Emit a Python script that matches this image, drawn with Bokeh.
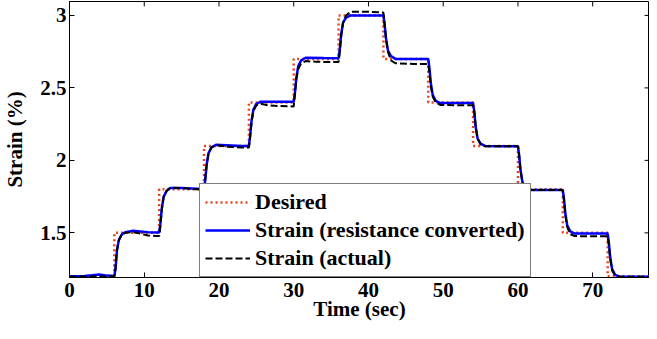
from bokeh.plotting import figure
from bokeh.models import Range1d, FixedTicker, Legend, LegendItem
from bokeh.embed import file_html
from bokeh.resources import INLINE

# ---------------- data ----------------
step_times = [0, 6, 12, 18, 24, 30, 36, 42, 48, 54, 60, 66, 72, 78]
desired = [1.2, 1.5, 1.8, 2.1, 2.4, 2.7, 3.0, 2.7, 2.4, 2.1, 1.8, 1.5, 1.2, 1.2]

t_conv = [0, 2, 3, 4, 5, 6.0, 6.15, 6.35, 6.6, 7.0, 7.5, 8.5, 9.5, 10.5, 12.0,
          12.15, 12.35, 12.6, 13.0, 13.5, 15, 17, 18.0,
          18.15, 18.35, 18.6, 19.0, 19.6, 21, 23, 24.0,
          24.15, 24.35, 24.6, 25.0, 25.6, 28, 30.0,
          30.15, 30.35, 30.6, 31.0, 31.6, 34, 36.0,
          36.15, 36.35, 36.6, 37.0, 37.6, 40, 42.0,
          42.15, 42.35, 42.6, 43.0, 43.6, 46, 48.0,
          48.15, 48.35, 48.6, 49.0, 49.6, 52, 54.0,
          54.15, 54.35, 54.6, 55.0, 55.6, 58, 60.0,
          60.15, 60.35, 60.6, 61.0, 61.6, 64, 66.0,
          66.15, 66.35, 66.6, 67.0, 67.6, 70, 72.0,
          72.15, 72.35, 72.6, 73.0, 73.6, 76, 78]
strain_conv = [1.200, 1.202, 1.207, 1.213, 1.205, 1.203, 1.25, 1.38, 1.45, 1.49, 1.505, 1.515, 1.51, 1.505, 1.502,
               1.56, 1.67, 1.75, 1.79, 1.81, 1.81, 1.805, 1.805,
               1.86, 1.97, 2.05, 2.09, 2.108, 2.105, 2.100, 2.100,
               2.16, 2.27, 2.35, 2.39, 2.405, 2.405, 2.405,
               2.46, 2.57, 2.65, 2.69, 2.708, 2.706, 2.705,
               2.76, 2.87, 2.95, 2.985, 3.0, 3.0, 3.0,
               2.94, 2.84, 2.76, 2.72, 2.70, 2.70, 2.70,
               2.64, 2.53, 2.45, 2.41, 2.395, 2.395, 2.395,
               2.34, 2.23, 2.15, 2.115, 2.10, 2.098, 2.098,
               2.04, 1.93, 1.85, 1.81, 1.795, 1.795, 1.795,
               1.74, 1.63, 1.55, 1.51, 1.495, 1.495, 1.495,
               1.44, 1.33, 1.25, 1.21, 1.197, 1.197, 1.197]

t_act = [0, 3, 6.0, 6.15, 6.35, 6.6, 7.0, 7.5, 8.5, 9.5, 10.5, 11.5, 12.0,
         12.15, 12.35, 12.6, 13.0, 13.5, 15, 17, 18.0,
         18.15, 18.35, 18.6, 19.0, 19.6, 21, 23, 24.0,
         24.15, 24.35, 24.6, 25.0, 25.6, 26.5, 28, 30.0,
         30.15, 30.35, 30.6, 31.0, 31.6, 33, 36.0,
         36.15, 36.35, 36.6, 37.0, 37.6, 40, 42.0,
         42.15, 42.35, 42.6, 43.0, 43.6, 46, 48.0,
         48.15, 48.35, 48.6, 49.0, 49.6, 52, 54.0,
         54.15, 54.35, 54.6, 55.0, 55.6, 60.0,
         60.15, 60.35, 60.6, 61.0, 61.6, 66.0,
         66.15, 66.35, 66.6, 67.0, 67.6, 70, 72.0,
         72.15, 72.35, 72.6, 73.0, 73.6, 78]
strain_act = [1.198, 1.199, 1.199, 1.25, 1.38, 1.45, 1.49, 1.50, 1.505, 1.495, 1.482, 1.478, 1.478,
              1.54, 1.66, 1.75, 1.79, 1.812, 1.81, 1.80, 1.80,
              1.86, 1.97, 2.05, 2.09, 2.105, 2.095, 2.088, 2.088,
              2.15, 2.26, 2.34, 2.38, 2.39, 2.38, 2.375, 2.372,
              2.45, 2.56, 2.63, 2.67, 2.685, 2.68, 2.678,
              2.74, 2.86, 2.95, 3.0, 3.025, 3.025, 3.02,
              2.95, 2.84, 2.75, 2.69, 2.67, 2.665, 2.665,
              2.61, 2.51, 2.44, 2.40, 2.382, 2.38, 2.38,
              2.34, 2.23, 2.15, 2.11, 2.098, 2.098,
              2.04, 1.93, 1.85, 1.805, 1.795, 1.795,
              1.73, 1.62, 1.54, 1.49, 1.478, 1.476, 1.476,
              1.42, 1.32, 1.24, 1.205, 1.197, 1.197]

x_ticks = [0, 10, 20, 30, 40, 50, 60, 70]
y_ticks = [1.5, 2, 2.5, 3]
y_tick_labels = {1.5: "1.5", 2: "2", 2.5: "2.5", 3: "3"}
X_MIN, X_MAX = 0, 77.6
Y_MIN, Y_MAX = 1.192, 3.096

# ---------------- figure ----------------
FONT = "Liberation Serif"

p = figure(width=649, height=323, output_backend="svg", toolbar_location=None,
           x_range=Range1d(X_MIN, X_MAX), y_range=Range1d(Y_MIN, Y_MAX),
           min_border_left=62, min_border_right=0, min_border_top=1, min_border_bottom=43)
p.xgrid.visible = False
p.ygrid.visible = False
p.outline_line_color = "black"
p.outline_line_width = 1
p.background_fill_color = "white"
p.border_fill_color = "white"

r_des = p.step(step_times, desired, mode="after", line_color="#E8451E", line_width=2.5,
               line_dash="2 3")
r_conv = p.line(t_conv, strain_conv, line_color="#0000FF", line_width=2.5)
r_act = p.line(t_act, strain_act, line_color="black", line_width=2, line_dash="7 3")

# inward ticks on the top and right edges (box style)
tick_dx = (X_MAX - X_MIN) * 5 / 586
tick_dy = (Y_MAX - Y_MIN) * 5 / 279
p.segment(x0=x_ticks, y0=[Y_MAX] * len(x_ticks), x1=x_ticks, y1=[Y_MAX - tick_dy] * len(x_ticks),
          line_color="black", line_width=1)
p.segment(x0=[X_MAX] * len(y_ticks), y0=y_ticks, x1=[X_MAX - tick_dx] * len(y_ticks), y1=y_ticks,
          line_color="black", line_width=1)

for ax in (p.xaxis[0], p.yaxis[0]):
    ax.major_label_text_font = FONT
    ax.major_label_text_font_style = "bold"
    ax.major_label_text_font_size = "21px"
    ax.major_label_text_color = "black"
    ax.axis_label_text_font = FONT
    ax.axis_label_text_font_style = "bold"
    ax.axis_label_text_font_size = "21px"
    ax.axis_label_text_color = "black"
    ax.major_tick_in = 5
    ax.major_tick_out = 0
    ax.minor_tick_in = 0
    ax.minor_tick_out = 0
    ax.axis_line_color = "black"
    ax.major_tick_line_color = "black"

p.xaxis.ticker = FixedTicker(ticks=x_ticks)
p.yaxis.ticker = FixedTicker(ticks=y_ticks)
p.yaxis.major_label_overrides = y_tick_labels
p.xaxis.axis_label = "Time (sec)"
p.yaxis.axis_label = "Strain (%)"
p.xaxis.major_label_standoff = 5
p.xaxis.axis_label_standoff = -3
p.yaxis.major_label_standoff = 3
p.yaxis.axis_label_standoff = 10

legend = Legend(items=[
    LegendItem(label="Desired", renderers=[r_des]),
    LegendItem(label="Strain (resistance converted)", renderers=[r_conv]),
    LegendItem(label="Strain (actual)", renderers=[r_act]),
], location=(130, 0))
legend.label_text_font = FONT
legend.label_text_font_style = "bold"
legend.label_text_font_size = "22px"
legend.label_text_color = "black"
legend.glyph_width = 45
legend.glyph_height = 20
legend.label_height = 20
legend.label_standoff = 5
legend.spacing = 2
legend.padding = 5
legend.margin = 0
legend.border_line_color = "black"
legend.border_line_width = 1
legend.background_fill_color = "white"
legend.background_fill_alpha = 1.0
p.add_layout(legend, "center")

open("out.html", "w").write(file_html(p, INLINE))
